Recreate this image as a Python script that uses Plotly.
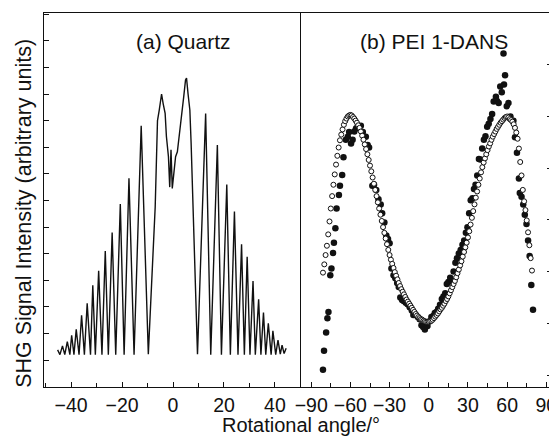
import plotly.graph_objects as go

# ---------------- data ----------------
# (a) Quartz Maker-fringe trace
QUARTZ_ANGLE = [-45.3, -44.4, -43.4, -42.5, -41.5, -40.5, -39.8, -38.9, -38.0, -36.9,
                -35.9, -34.8, -33.7, -32.4, -31.5, -30.5, -29.2, -27.9, -26.6, -25.4,
                -23.9, -22.5, -20.7, -19.2, -17.3, -15.3, -12.5, -9.7, -7.0, -6.1,
                -5.4, -4.5, -3.9, -3.1, -2.6, -1.8, -1.3, -0.8, -0.3, 0.4,
                1.0, 1.7, 2.6, 3.3, 4.2, 4.9, 5.3, 5.9, 6.6, 7.1,
                9.6, 12.8, 14.8, 17.4, 19.0, 21.1, 22.5, 24.1, 25.5, 26.9,
                28.0, 29.1, 30.2, 31.4, 32.3, 33.6, 34.5, 35.5, 36.4, 37.4,
                38.5, 39.2, 40.3, 41.2, 42.1, 42.8, 43.6, 44.4]
QUARTZ_SIGNAL = [0.38, 0.20, 0.53, 0.20, 0.69, 0.20, 0.93, 0.20, 1.15, 0.20,
                 1.68, 0.20, 2.13, 0.20, 2.81, 0.20, 3.35, 0.20, 4.10, 0.20,
                 4.79, 0.20, 5.86, 0.20, 6.83, 0.20, 8.81, 0.22, 5.76, 9.00,
                 9.40, 10.00, 9.65, 9.27, 8.40, 7.64, 6.50, 7.90, 6.45, 7.27,
                 7.64, 7.83, 8.52, 9.15, 9.90, 10.53, 10.60, 10.00, 9.40, 8.15,
                 0.22, 9.27, 0.20, 8.08, 0.20, 6.60, 0.20, 5.58, 0.20, 4.35,
                 0.20, 3.88, 0.20, 2.97, 0.20, 2.28, 0.20, 1.78, 0.20, 1.38,
                 0.20, 1.10, 0.20, 0.75, 0.22, 0.56, 0.24, 0.44]

# (b) PEI 1-DANS: fitted curve (open circles)
FIT_ANGLE = [-81, -80, -79, -78, -77, -76, -75, -74, -73, -72, -71, -70, -69, -68, -67, -66,
             -65, -64, -63, -62, -61, -60, -59, -58, -57, -56, -55, -54, -53, -52, -51, -50,
             -49, -48, -47, -46, -45, -44, -43, -42, -41, -40, -39, -38, -37, -36, -35, -34,
             -33, -32, -31, -30, -29, -28, -27, -26, -25, -24, -23, -22, -21, -20, -19, -18,
             -17, -16, -15, -14, -13, -12, -11, -10, -9, -8, -7, -6, -5, -4, -3, -2,
             -1, 0, 1, 2, 3, 4, 5, 6, 7, 8, 9, 10, 11, 12, 13, 14,
             15, 16, 17, 18, 19, 20, 21, 22, 23, 24, 25, 26, 27, 28, 29, 30,
             31, 32, 33, 34, 35, 36, 37, 38, 39, 40, 41, 42, 43, 44, 45, 46,
             47, 48, 49, 50, 51, 52, 53, 54, 55, 56, 57, 58, 59, 60, 61, 62,
             63, 64, 65, 66, 67, 68, 69, 70, 71, 72, 73, 74, 75, 76, 77, 78, 79]
FIT_SIGNAL = [1.98, 2.14, 2.32, 2.50, 2.72, 2.97, 3.22, 3.46, 3.68, 3.88, 4.07, 4.24, 4.40, 4.54, 4.65, 4.75,
              4.84, 4.91, 4.96, 5.00, 5.02, 5.03, 5.02, 4.99, 4.96, 4.92, 4.88, 4.83, 4.78, 4.71, 4.63, 4.55,
              4.46, 4.37, 4.27, 4.16, 4.05, 3.94, 3.82, 3.70, 3.58, 3.46, 3.34, 3.22, 3.10, 2.98, 2.86, 2.75,
              2.64, 2.53, 2.42, 2.32, 2.23, 2.15, 2.07, 1.99, 1.92, 1.85, 1.78, 1.72, 1.66, 1.61, 1.56, 1.51,
              1.46, 1.42, 1.38, 1.34, 1.30, 1.26, 1.22, 1.18, 1.15, 1.12, 1.10, 1.08, 1.07, 1.05, 1.04, 1.03,
              1.03, 1.03, 1.04, 1.05, 1.07, 1.10, 1.13, 1.16, 1.19, 1.23, 1.27, 1.30, 1.34, 1.38, 1.43, 1.47,
              1.52, 1.58, 1.64, 1.70, 1.76, 1.82, 1.89, 1.97, 2.04, 2.12, 2.20, 2.29, 2.38, 2.47, 2.56, 2.66,
              2.78, 2.91, 3.04, 3.17, 3.30, 3.43, 3.55, 3.68, 3.80, 3.92, 4.02, 4.11, 4.19, 4.27, 4.35, 4.42,
              4.48, 4.55, 4.61, 4.66, 4.71, 4.76, 4.80, 4.84, 4.88, 4.91, 4.94, 4.97, 4.99, 5.00, 4.98, 4.95,
              4.93, 4.90, 4.85, 4.78, 4.69, 4.57, 4.38, 4.12, 3.86, 3.58, 3.36, 3.19, 2.99, 2.76, 2.51, 2.26, 2.02]

# (b) PEI 1-DANS: measured data (filled circles)
MEAS_ANGLE = [-81.0, -80.2, -78.6, -77.6, -76.8, -75.4, -74.5, -73.3, -72.6, -71.5,
              -70.6, -68.8, -68.0, -66.3, -65.3, -63.5, -62.0, -61.0, -59.5, -58.3,
              -57.0, -55.7, -54.5, -52.0, -50.5, -48.2, -46.8, -45.7, -43.2, -41.9,
              -40.2, -38.5, -36.8, -35.7, -34.0, -32.5, -31.2, -30.0, -28.6, -27.0,
              -25.6, -24.2, -23.0, -21.8, -20.4, -19.2, -17.6, -16.2, -14.6, -13.0,
              -11.8, -10.2, -8.4, -7.0, -5.6, -4.3, -3.0, -2.0, -1.0, 0.8,
              2.0, 3.4, 4.6, 5.8, 7.2, 8.6, 10.0, 11.2, 12.6, 13.8,
              15.0, 16.4, 17.8, 19.0, 20.4, 21.6, 23.0, 24.4, 25.8, 27.1,
              28.4, 29.6, 30.9, 32.1, 33.4, 34.6, 35.8, 37.1, 38.4, 39.6,
              40.9, 42.2, 43.4, 44.7, 45.9, 47.2, 48.5, 49.7, 51.4, 52.2,
              53.5, 54.7, 55.9, 57.2, 57.6, 58.4, 59.7, 61.0, 62.5, 64.8,
              66.0, 67.5, 69.0, 69.7, 71.0, 72.3, 73.5, 74.8, 76.0, 77.2,
              78.5, 79.8]
MEAS_SIGNAL = [0.10, 0.47, 0.82, 1.10, 1.22, 1.93, 2.06, 2.36, 2.56, 2.84,
               3.22, 3.48, 3.66, 3.87, 4.21, 4.55, 4.61, 4.70, 4.48, 4.55,
               4.71, 4.77, 4.80, 4.82, 4.70, 4.61, 4.45, 4.40, 3.66, 3.68,
               3.58, 3.40, 3.30, 3.13, 2.95, 2.70, 2.63, 2.55, 2.06, 1.93,
               1.87, 1.78, 1.70, 1.50, 1.45, 1.43, 1.40, 1.37, 1.31, 1.25,
               1.16, 1.17, 1.12, 1.08, 0.96, 0.93, 0.88, 1.02, 0.95, 1.04,
               1.12, 1.14, 1.20, 1.22, 1.28, 1.36, 1.47, 1.52, 1.58, 1.76,
               1.80, 1.88, 1.82, 2.00, 2.17, 2.26, 2.35, 2.42, 2.52, 2.60,
               2.75, 2.86, 3.13, 3.38, 3.42, 3.60, 3.68, 3.86, 4.18, 4.17,
               4.38, 4.55, 4.62, 4.80, 4.86, 4.95, 5.05, 5.29, 5.38, 5.30,
               5.26, 5.58, 5.47, 6.22, 5.62, 5.80, 5.20, 5.26, 5.00, 4.92,
               4.60, 4.30, 3.80, 3.52, 3.45, 3.30, 3.10, 2.92, 2.60, 2.30,
               1.74, 1.26]

LEFT_TICKS = [-40, -20, 0, 20, 40]
RIGHT_TICKS = [-90, -60, -30, 0, 30, 60, 90]

# ---------------- figure ----------------
# The page body has an 8px default margin, so the figure is offset by 8px;
# positions below are given in window pixels and converted accordingly.
OFF = 8
W, H = 557 - OFF, 438 - OFF
FONT = "Liberation Sans, Arial, Helvetica, sans-serif"
INK = "#111111"


def px_x(x):
    return (x - OFF) / W


def px_y(y):
    return 1 - (y - OFF) / H


fig = go.Figure()

fig.add_trace(go.Scatter(x=QUARTZ_ANGLE, y=QUARTZ_SIGNAL, mode="lines",
                         line=dict(color=INK, width=1.4), xaxis="x", yaxis="y",
                         showlegend=False, hoverinfo="skip"))

fig.add_trace(go.Scatter(x=MEAS_ANGLE, y=MEAS_SIGNAL, mode="markers",
                         marker=dict(symbol="circle", size=6.5, color=INK,
                                     line=dict(width=0)),
                         xaxis="x2", yaxis="y2", showlegend=False, hoverinfo="skip"))

fig.add_trace(go.Scatter(x=FIT_ANGLE, y=FIT_SIGNAL, mode="markers",
                         marker=dict(symbol="circle", size=5, color="white",
                                     line=dict(width=1, color=INK)),
                         xaxis="x2", yaxis="y2", showlegend=False, hoverinfo="skip"))

y_dom = [px_y(387), px_y(13)]
axis_common = dict(showgrid=False, zeroline=False, showline=True, linecolor=INK,
                   linewidth=1.3, ticks="inside", tickcolor=INK, tickwidth=1,
                   ticklabeloverflow="allow",
                   tickfont=dict(family=FONT, size=19.5, color=INK))

fig.update_layout(
    width=W, height=H,
    margin=dict(l=0, r=0, t=0, b=0),
    paper_bgcolor="white", plot_bgcolor="white",
    xaxis=dict(domain=[px_x(39.5), px_x(299.5)], range=[-50.66, 49.73],
               tickvals=LEFT_TICKS, ticklen=5, mirror=True, anchor="y",
               minor=dict(dtick=10, tick0=0, ticks="inside", ticklen=4, tickcolor=INK),
               **axis_common),
    yaxis=dict(domain=y_dom, range=[-1.015, 13.045], dtick=1, tick0=0,
               showticklabels=False, ticklen=5, mirror=True, anchor="x",
               **axis_common),
    xaxis2=dict(domain=[px_x(299.5), 1.0], range=[-98.8, 95.1],
                tickvals=RIGHT_TICKS, ticklen=5, mirror=True, anchor="y2",
                minor=dict(dtick=15, tick0=0, ticks="inside", ticklen=4, tickcolor=INK),
                **axis_common),
    yaxis2=dict(domain=y_dom, range=[-0.232, 7.002], dtick=1, tick0=0,
                showticklabels=False, ticklen=6, side="right", anchor="x2",
                showgrid=False, zeroline=False, showline=False,
                ticks="inside", tickcolor=INK, tickwidth=1),
    annotations=[
        dict(text="(a) Quartz", x=px_x(181), y=px_y(41), xref="paper", yref="paper",
             showarrow=False, font=dict(family=FONT, size=21, color=INK),
             xanchor="center", yanchor="middle"),
        dict(text="(b) PEI 1-DANS", x=px_x(436), y=px_y(41), xref="paper", yref="paper",
             showarrow=False, font=dict(family=FONT, size=21, color=INK),
             xanchor="center", yanchor="middle"),
        dict(text="Rotational angle/°", x=px_x(301), y=px_y(425), xref="paper", yref="paper",
             showarrow=False, font=dict(family=FONT, size=20, color=INK),
             xanchor="center", yanchor="middle"),
        dict(text="SHG Signal Intensity (arbitrary units)", x=px_x(19), y=px_y(213),
             xref="paper", yref="paper", textangle=-90, showarrow=False,
             font=dict(family=FONT, size=21.5, color=INK),
             xanchor="center", yanchor="middle"),
    ],
)

fig.write_html("out.html")
